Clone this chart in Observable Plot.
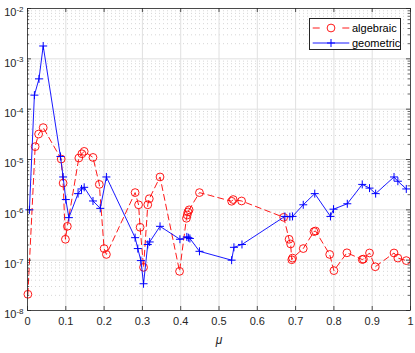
<!DOCTYPE html>
<html><head><meta charset="utf-8">
<script src="https://cdn.jsdelivr.net/npm/d3@7"></script>
<script src="https://cdn.jsdelivr.net/npm/@observablehq/plot@0.6"></script>
<style>
body{margin:0;background:#fff;}
#wrap{position:relative;width:415px;height:353px;font-family:"Liberation Sans",Arial,sans-serif;color:#262626;}
#legend{position:absolute;left:309px;top:18px;width:92px;height:32px;background:#fff;border:0.8px solid #262626;box-sizing:border-box;}
#legend .row{position:absolute;left:0;height:14px;display:flex;align-items:center;font-size:11px;color:#000;}
</style></head><body><div id="wrap"></div>
<script>
// ---- data ----
const algMu = [0.001, 0.020, 0.029, 0.041, 0.088, 0.093, 0.099, 0.104, 0.134, 0.142, 0.148, 0.171, 0.1875, 0.200, 0.206, 0.281, 0.290, 0.294, 0.303, 0.314, 0.318, 0.346, 0.397, 0.415, 0.417, 0.419, 0.422, 0.449, 0.533, 0.537, 0.559, 0.669, 0.683, 0.687, 0.690, 0.692, 0.720, 0.748, 0.752, 0.789, 0.800, 0.834, 0.874, 0.877, 0.893, 0.908, 0.957, 0.967, 0.989];
const algErr = [2.1e-8, 1.8e-5, 3.2e-5, 4.3e-5, 1.02e-5, 3.4e-6, 2.6e-7, 4.7e-7, 1.07e-5, 1.3e-5, 1.45e-5, 1.1e-5, 3.2e-6, 1.7e-7, 1.3e-7, 2.2e-6, 1.26e-6, 4.5e-7, 7.2e-8, 1.26e-6, 1.66e-6, 4.5e-6, 6.0e-8, 6.8e-7, 7.9e-7, 9.1e-7, 1.0e-6, 2.2e-6, 1.48e-6, 1.6e-6, 1.5e-6, 7.1e-7, 2.6e-7, 2.1e-7, 1.02e-7, 1.1e-7, 1.7e-7, 3.7e-7, 3.8e-7, 1.3e-7, 6.2e-8, 1.4e-7, 1.03e-7, 1.05e-7, 1.39e-7, 7.4e-8, 1.39e-7, 1.1e-7, 9.8e-8];
const geoMu = [0.005, 0.018, 0.030, 0.041, 0.086, 0.093, 0.100, 0.108, 0.132, 0.141, 0.148, 0.171, 0.190, 0.206, 0.281, 0.288, 0.296, 0.303, 0.314, 0.319, 0.346, 0.398, 0.416, 0.420, 0.424, 0.449, 0.533, 0.539, 0.560, 0.672, 0.685, 0.692, 0.720, 0.750, 0.791, 0.799, 0.835, 0.874, 0.893, 0.909, 0.957, 0.967, 0.989];
const geoErr = [1.0e-6, 1.9e-4, 4.0e-4, 1.8e-3, 1.15e-5, 4.5e-6, 1.6e-6, 7.0e-7, 2.1e-6, 2.6e-6, 2.8e-6, 1.5e-6, 1.07e-6, 4.5e-6, 2.8e-7, 1.7e-7, 9.8e-8, 3.4e-8, 2.05e-7, 2.3e-7, 4.7e-7, 2.6e-7, 2.9e-7, 2.8e-7, 2.7e-7, 1.5e-7, 1.0e-7, 1.8e-7, 2.05e-7, 7.4e-7, 7.3e-7, 7.4e-7, 1.26e-6, 2.1e-6, 7.4e-7, 1.03e-6, 1.32e-6, 3.2e-6, 2.7e-6, 2.1e-6, 4.5e-6, 3.7e-6, 2.6e-6];
const seriesNames = ["algebraic", "geometric"];
const xTicks = [0, 0.1, 0.2, 0.3, 0.4, 0.5, 0.6, 0.7, 0.8, 0.9, 1];
const yTicks = [1e-8, 1e-7, 1e-6, 1e-5, 1e-4, 1e-3, 1e-2];
const xLabel = "μ";

// ---- styling ----
const RED = "#ff0000", BLUE = "#0000ff", AX = "#262626";
const plusSymbol = {draw(ctx, size) { const r = Math.sqrt(size / Math.PI); ctx.moveTo(-r, 0); ctx.lineTo(r, 0); ctx.moveTo(0, -r); ctx.lineTo(0, r); }};

const alg = algMu.map((m, i) => ({mu: m, err: algErr[i]}));
const geo = geoMu.map((m, i) => ({mu: m, err: geoErr[i]}));
const yMinor = [];
for (let i = 0; i < yTicks.length - 1; i++) for (let k = 2; k <= 9; k++) yMinor.push(k * yTicks[i]);

const xMin = xTicks[0], xMax = xTicks[xTicks.length - 1];
const yMin = yTicks[0], yMax = yTicks[yTicks.length - 1];

const plot = Plot.plot({
  width: 415, height: 353,
  marginLeft: 27, marginRight: 5, marginTop: 8, marginBottom: 43,
  style: {fontFamily: "'Liberation Sans', Arial, sans-serif", fontSize: "11px", color: AX, background: "#fff", overflow: "visible"},
  x: {domain: [xMin, xMax]},
  y: {type: "log", domain: [yMin, yMax]},
  marks: [
    Plot.ruleY(yMinor, {stroke: "#c4c4c4", strokeWidth: 0.7, strokeDasharray: "1,3"}),
    Plot.ruleY(yTicks, {stroke: "#e0e0e0", strokeWidth: 1}),
    Plot.ruleX(xTicks, {stroke: "#e0e0e0", strokeWidth: 1}),
    Plot.line(alg, {x: "mu", y: "err", stroke: RED, strokeWidth: 0.9, strokeDasharray: "6,4"}),
    Plot.dot(alg, {x: "mu", y: "err", r: 3.9, stroke: RED, fill: "none", strokeWidth: 0.9}),
    Plot.line(geo, {x: "mu", y: "err", stroke: BLUE, strokeWidth: 0.9}),
    Plot.dot(geo, {x: "mu", y: "err", r: 4, symbol: plusSymbol, stroke: BLUE, fill: "none", strokeWidth: 1}),
    Plot.frame({stroke: AX, strokeWidth: 0.8}),
    // inward ticks
    Plot.ruleX(xTicks, {x: d => d, y1: () => yMin, y2: () => yMin, insetBottom: 4, stroke: AX, strokeWidth: 0.8}),
    Plot.ruleX(xTicks, {x: d => d, y1: () => yMax, y2: () => yMax, insetTop: 4, stroke: AX, strokeWidth: 0.8}),
    Plot.ruleY(yTicks, {y: d => d, x1: () => xMin, x2: () => xMin, insetLeft: 4, stroke: AX, strokeWidth: 0.8}),
    Plot.ruleY(yTicks, {y: d => d, x1: () => xMax, x2: () => xMax, insetRight: 4, stroke: AX, strokeWidth: 0.8}),
    Plot.ruleY(yMinor, {y: d => d, x1: () => xMin, x2: () => xMin, insetLeft: 2.2, stroke: AX, strokeWidth: 0.7}),
    Plot.ruleY(yMinor, {y: d => d, x1: () => xMax, x2: () => xMax, insetRight: 2.2, stroke: AX, strokeWidth: 0.7}),
    Plot.axisX({ticks: xTicks, tickSize: 0, tickPadding: 7, tickFormat: d => String(d), label: null}),
    Plot.axisY({ticks: yTicks, tickSize: 0, tickPadding: 4, tickFormat: d => "10^" + Math.round(Math.log10(d)), label: null}),
    Plot.text([xLabel], {frameAnchor: "bottom", dy: 33, fontStyle: "italic", fontSize: 12, fill: AX})
  ]
});

// superscript exponents on the y tick labels
d3.select(plot).selectAll('g[aria-label="y-axis tick label"] text').each(function () {
  const [b, e] = this.textContent.split("^");
  const t = d3.select(this);
  t.text(b).attr("dy", "0.4em");
  t.append("tspan").attr("dy", "-0.55em").attr("font-size", "8px").text(e);
});

const wrap = document.getElementById("wrap");
wrap.appendChild(plot);

// legend
const legend = d3.select(wrap).append("div").attr("id", "legend");
const legendDefs = [
  {name: seriesNames[0], color: RED, dash: "7,22.6", marker: "circle"},
  {name: seriesNames[1], color: BLUE, dash: null, marker: "plus"}
];
legendDefs.forEach((s, i) => {
  const row = legend.append("div").attr("class", "row").style("top", (2.3 + i * 15) + "px");
  const sv = row.append("svg").attr("width", 41).attr("height", 14);
  sv.append("line").attr("x1", 2.7).attr("x2", 39.3).attr("y1", 7).attr("y2", 7)
    .attr("stroke", s.color).attr("stroke-width", 0.9).attr("stroke-dasharray", s.dash);
  if (s.marker === "circle") sv.append("circle").attr("cx", 21).attr("cy", 7).attr("r", 3.9).attr("fill", "none").attr("stroke", s.color).attr("stroke-width", 0.9);
  else sv.append("path").attr("d", "M17,7H25M21,3V11").attr("stroke", s.color).attr("stroke-width", 1);
  row.append("span").text(s.name).style("margin-left", "1px");
});
</script>
</body></html>
